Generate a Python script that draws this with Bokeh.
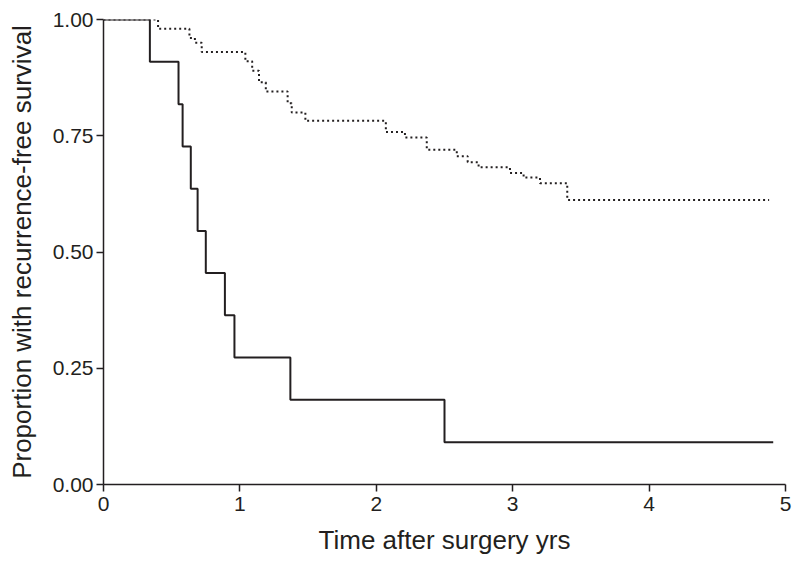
from bokeh.plotting import figure
from bokeh.models import Range1d, FixedTicker
from bokeh.embed import file_html
from bokeh.resources import INLINE

# Kaplan-Meier steps (time in years, proportion recurrence-free)
solid_time = [0, 0.34, 0.55, 0.58, 0.64, 0.69, 0.75, 0.89, 0.96, 1.37, 2.50, 4.91]
solid_surv = [1.0, 0.909, 0.818, 0.727, 0.636, 0.545, 0.455, 0.364, 0.273, 0.182, 0.091, 0.091]

dotted_time = [0, 0.40, 0.63, 0.67, 0.72, 1.04, 1.09, 1.14, 1.19, 1.35, 1.38, 1.48,
               2.07, 2.21, 2.37, 2.59, 2.67, 2.75, 2.98, 3.08, 3.20, 3.40, 4.88]
dotted_surv = [1.0, 0.98, 0.96, 0.95, 0.93, 0.91, 0.89, 0.865, 0.845, 0.82, 0.80, 0.782,
               0.758, 0.746, 0.72, 0.706, 0.693, 0.682, 0.67, 0.66, 0.648, 0.612, 0.612]

x_ticks = [0, 1, 2, 3, 4, 5]
y_ticks = [0.0, 0.25, 0.5, 0.75, 1.0]
y_tick_labels = {0.0: "0.00", 0.25: "0.25", 0.5: "0.50", 0.75: "0.75", 1.0: "1.00"}

INK = "#231f20"
FONT = "Liberation Sans"

p = figure(width=800, height=561, output_backend="svg", toolbar_location=None,
           x_range=Range1d(0, 5), y_range=Range1d(0, 1.0),
           min_border_left=103, min_border_right=15, min_border_top=19, min_border_bottom=77)
p.outline_line_color = None
p.xgrid.visible = False
p.ygrid.visible = False
p.background_fill_color = "white"

p.step(solid_time, solid_surv, mode="after", line_color=INK, line_width=2)
p.step(dotted_time, dotted_surv, mode="after", line_color=INK, line_width=2, line_dash="2 3")

for ax in (p.xaxis[0], p.yaxis[0]):
    ax.axis_line_color = INK
    ax.axis_line_width = 1.5
    ax.major_tick_line_color = INK
    ax.major_tick_line_width = 1.5
    ax.major_tick_in = 0
    ax.major_tick_out = 7
    ax.minor_tick_line_color = None
    ax.major_label_text_font = FONT
    ax.major_label_text_font_size = "21px"
    ax.major_label_text_color = INK
    ax.axis_label_text_font = FONT
    ax.axis_label_text_font_size = "26px"
    ax.axis_label_text_font_style = "normal"
    ax.axis_label_text_color = INK

p.xaxis.ticker = FixedTicker(ticks=x_ticks)
p.yaxis.ticker = FixedTicker(ticks=y_ticks)
p.yaxis.major_label_overrides = y_tick_labels
p.xaxis.axis_label = "Time after surgery yrs"
p.yaxis.axis_label = "Proportion with recurrence-free survival"
p.xaxis.major_label_standoff = 5
p.yaxis.major_label_standoff = 3
p.xaxis.axis_label_standoff = 11
p.yaxis.axis_label_standoff = 13

open("out.html", "w").write(file_html(p, INLINE))
